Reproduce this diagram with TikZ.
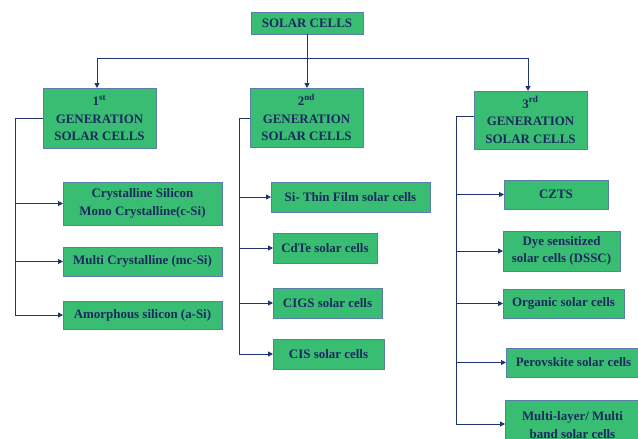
\documentclass[tikz,border=0pt]{standalone}
\usepackage{fontspec}
\setmainfont{Liberation Serif}
\usetikzlibrary{arrows.meta}
\definecolor{boxfill}{HTML}{38BD72}
\definecolor{boxline}{HTML}{5B7EA8}
\definecolor{txt}{HTML}{1B2A5E}
\definecolor{conn}{HTML}{1F356F}
\tikzset{
  box/.style={draw=boxline, line width=0.6pt, fill=boxfill, inner sep=0pt, outer sep=0pt,
    align=center, text=txt, font=\fontsize{9.2}{12.6}\selectfont\bfseries},
  conline/.style={draw=conn, line width=0.7pt},
  arr/.style={conline, -{Triangle[length=3.5pt,width=3.5pt]}},
}
\newcommand{\mkbox}[6]{%
  \node[box, minimum width={(#4-#2)*0.025cm}, minimum height={(#5-#3)*0.025cm}]
    (#1) at ({(#2+#4)/2},{(#3+#5)/2}) {#6};}
\begin{document}
\begin{tikzpicture}[x=0.025cm,y=-0.025cm]
\clip (0,0) rectangle (638,439);
\fill[white] (0,0) rectangle (638,439);
% top
\mkbox{top}{251}{12}{363}{34}{SOLAR CELLS}
% generations
\mkbox{g1}{43}{88}{156}{148}{1\textsuperscript{st}\\GENERATION\\SOLAR CELLS}
\mkbox{g2}{250}{88}{363}{147}{2\textsuperscript{nd}\\GENERATION\\SOLAR CELLS}
\mkbox{g3}{474}{91}{587}{149}{3\textsuperscript{rd}\\GENERATION\\SOLAR CELLS}
% 1st children
\mkbox{a1}{63}{182}{222}{225}{Crystalline Silicon\\Mono Crystalline(c-Si)}
\mkbox{a2}{63}{247}{222}{276}{Multi Crystalline (mc-Si)}
\mkbox{a3}{63}{301}{222}{329}{Amorphous silicon (a-Si)}
% 2nd children
\mkbox{b1}{271}{182}{430}{212}{Si- Thin Film solar cells}
\mkbox{b2}{273}{233}{377}{263}{CdTe solar cells}
\mkbox{b3}{273}{288}{382}{318}{CIGS solar cells}
\mkbox{b4}{273}{339}{384}{369}{CIS solar cells}
% 3rd children
\mkbox{c1}{504}{180}{608}{209}{CZTS}
\mkbox{c2}{503}{231}{620}{271}{Dye sensitized\\solar cells (DSSC)}
\mkbox{c3}{503}{289}{624}{318}{Organic solar cells}
\mkbox{c4}{506}{348}{641}{377}{Perovskite solar cells}
\mkbox{c5}{505}{400}{640}{450}{Multi-layer/ Multi\\band solar cells}
% top connectors
\coordinate (bus) at (top.south |- 0,58);
\coordinate (bl) at (97,58);
\coordinate (br) at (528,58);
\draw[conline] (top.south) -- (bus);
\draw[conline] (bl) -- (br);
\draw[arr] (bl) -- (g1.north -| bl);
\draw[arr] (bus) -- (g2.north -| bus);
\draw[arr] (br) -- (g3.north -| br);
% side connectors
\coordinate (l1) at (15,118);
\coordinate (l2) at (239,118);
\coordinate (l3) at (456,116);
\draw[conline] (g1.west |- l1) -- (l1);
\draw[conline] (g2.west |- l2) -- (l2);
\draw[conline] (g3.west |- l3) -- (l3);
\foreach \n in {a1,a2,a3} \draw[arr] (l1) |- (\n.west);
\foreach \n in {b1,b2,b3,b4} \draw[arr] (l2) |- (\n.west);
\foreach \n in {c1,c2,c3,c4} \draw[arr] (l3) |- (\n.west);
\draw[arr] (l3) |- (c5.west |- 0,424);
\end{tikzpicture}
\end{document}
